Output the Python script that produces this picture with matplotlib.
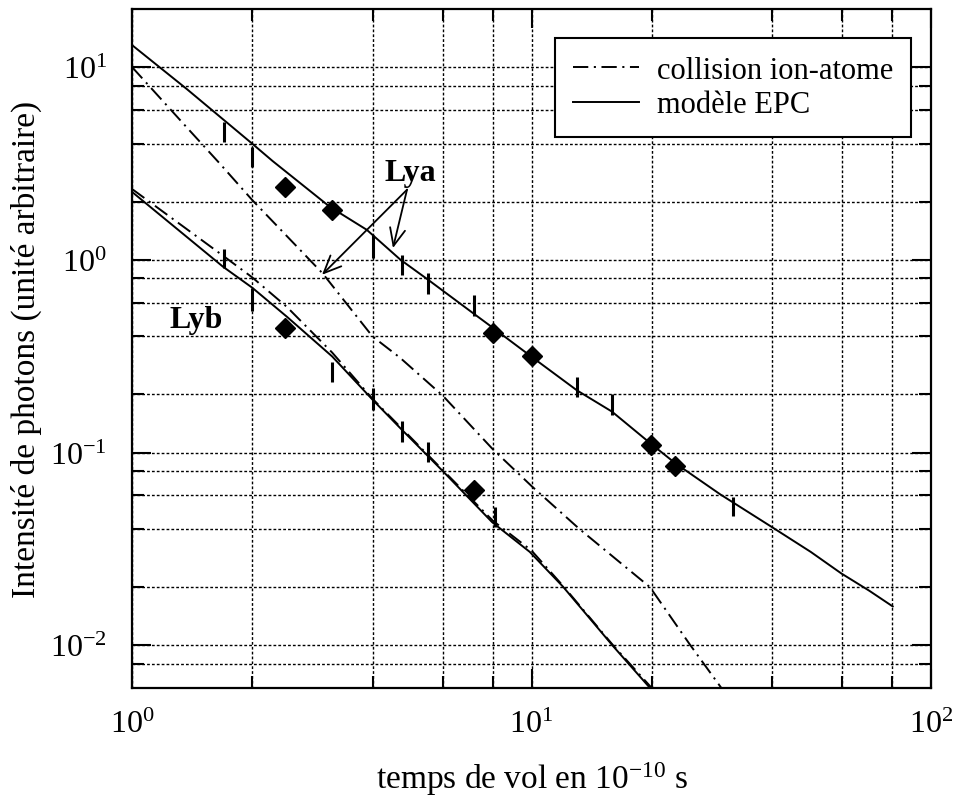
import matplotlib
matplotlib.use('Agg')
import matplotlib.pyplot as plt
from matplotlib.ticker import FixedLocator, LogFormatterSciNotation, NullFormatter

plt.rcParams['font.family'] = ['Liberation Serif', 'DejaVu Serif']
plt.rcParams['mathtext.fontset'] = 'custom'
plt.rcParams['mathtext.rm'] = 'Liberation Serif'
plt.rcParams['mathtext.it'] = 'Liberation Serif:italic'
plt.rcParams['mathtext.bf'] = 'Liberation Serif:bold'
plt.rcParams['lines.scale_dashes'] = False

# ---------------- data ----------------
# EPC model, Ly-alpha
epc_a_x = [1, 1.37, 2, 2.25, 3.13, 3.87, 4.7, 5.5, 7.17, 8, 10, 13, 15.9, 19.8, 22.9, 29.7, 40, 50, 59.6, 70, 80.2]
epc_a_y = [13.0, 7.7, 4.0, 3.25, 1.88, 1.43, 1.0, 0.79, 0.525, 0.444, 0.314, 0.21, 0.163, 0.112, 0.088, 0.0606, 0.041, 0.0305, 0.0236, 0.0192, 0.0159]
# collision ion-atom model, Ly-alpha
col_a_x = [1, 1.37, 1.66, 2, 3, 4, 4.69, 6, 8, 10, 13.2, 19.8, 24.9, 29.7, 31]
col_a_y = [10.0, 4.87, 3.15, 2.04, 0.85, 0.40, 0.31, 0.197, 0.104, 0.067, 0.040, 0.020, 0.0101, 0.0061, 0.0054]
# EPC model, Ly-beta
epc_b_x = [1, 1.69, 2, 2.44, 3.17, 4.0, 4.69, 5.27, 6, 7.97, 9.9, 12, 16, 19.8, 21]
epc_b_y = [2.25, 0.92, 0.716, 0.507, 0.315, 0.188, 0.134, 0.105, 0.080, 0.0435, 0.0305, 0.0201, 0.0099, 0.006, 0.0053]
# collision ion-atom model, Ly-beta
col_b_x = [1, 1.7, 2, 2.44, 3.17, 4.0, 4.69, 6, 8, 10, 12, 16, 20, 21]
col_b_y = [2.33, 1.04, 0.81, 0.57, 0.33, 0.19, 0.136, 0.081, 0.0443, 0.031, 0.0203, 0.0100, 0.0060, 0.0054]

# experimental points (diamonds)
pts_a_x = [2.42, 3.17, 8.0, 10.0, 19.9, 22.9]
pts_a_y = [2.39, 1.81, 0.418, 0.318, 0.110, 0.085]
pts_b_x = [2.42, 7.17]
pts_b_y = [0.444, 0.064]

# experimental points (vertical error bars)
err_a_x = [1.70, 2.0, 4.0, 4.74, 5.5, 7.17, 13.0, 15.9, 31.9]
err_a_lo = [4.10, 3.03, 1.02, 0.83, 0.667, 0.513, 0.195, 0.157, 0.047]
err_a_hi = [5.19, 3.85, 1.35, 1.06, 0.856, 0.659, 0.245, 0.200, 0.059]
err_b_x = [1.70, 2.0, 3.17, 4.0, 4.74, 5.5, 8.1]
err_b_lo = [0.91, 0.54, 0.231, 0.167, 0.114, 0.089, 0.041]
err_b_hi = [1.14, 0.716, 0.296, 0.217, 0.145, 0.113, 0.052]

x_major = [1, 10, 100]
x_minor = [2, 4, 6, 8, 20, 40, 60, 80]
y_major = [0.01, 0.1, 1, 10]
y_minor = [0.008, 0.02, 0.04, 0.06, 0.08, 0.2, 0.4, 0.6, 0.8, 2, 4, 6, 8]

# ---------------- figure ----------------
fig = plt.figure(figsize=(9.56, 8.03), dpi=100)
ax = fig.add_axes([132/956, 1-689/803, (931-132)/956, (689-10)/803])
ax.set_xscale('log')
ax.set_yscale('log')
ax.set_xlim(1, 100)
ax.set_ylim(0.006, 20)

dashdot = (0, (11, 4, 1.5, 4))
lw = 1.4
l_col, = ax.plot(col_a_x, col_a_y, color='k', lw=lw, ls=dashdot, label='collision ion-atome', zorder=3)
ax.plot(col_b_x, col_b_y, color='k', lw=lw, ls=dashdot, zorder=3)
l_epc, = ax.plot(epc_a_x, epc_a_y, color='k', lw=lw, ls='-', label='modèle EPC', zorder=3)
ax.plot(epc_b_x, epc_b_y, color='k', lw=lw, ls='-', zorder=3)

ax.plot(pts_a_x, pts_a_y, 'D', color='k', ms=10, zorder=4)
ax.plot(pts_b_x, pts_b_y, 'D', color='k', ms=10, zorder=4)
ax.vlines(err_a_x, err_a_lo, err_a_hi, color='k', lw=2.2, zorder=4)
ax.vlines(err_b_x, err_b_lo, err_b_hi, color='k', lw=2.2, zorder=4)

# annotations
ax.text(4.97, 2.82, 'Lya', fontsize=23, fontweight='bold', ha='center', va='center', zorder=5)
ax.text(1.446, 0.489, 'Lyb', fontsize=23, fontweight='bold', ha='center', va='center', zorder=5)
arrow_start = (4.88, 2.31)
for tip in [(2.99, 0.836), (4.5, 1.15)]:
    ax.annotate('', xy=tip, xytext=arrow_start,
                arrowprops=dict(arrowstyle='->,head_length=0.5,head_width=0.22', lw=1.3,
                                color='k', shrinkA=0, shrinkB=0, mutation_scale=25),
                zorder=5)

# ticks & grid
ax.xaxis.set_major_locator(FixedLocator(x_major))
ax.xaxis.set_minor_locator(FixedLocator(x_minor))
ax.yaxis.set_major_locator(FixedLocator(y_major))
ax.yaxis.set_minor_locator(FixedLocator(y_minor))
ax.xaxis.set_major_formatter(LogFormatterSciNotation())
ax.yaxis.set_major_formatter(LogFormatterSciNotation())
ax.xaxis.set_minor_formatter(NullFormatter())
ax.yaxis.set_minor_formatter(NullFormatter())
ax.tick_params(which='both', direction='in', top=True, right=True, width=1.5, labelsize=23)
ax.tick_params(which='major', length=14)
ax.tick_params(which='minor', length=8.5)
ax.tick_params(axis='x', which='major', pad=16)
ax.tick_params(axis='y', which='major', pad=18)
ax.grid(True, which='both', ls=(0, (2, 1.5)), lw=1.0, color='k')
ax.set_axisbelow(True)
for s in ax.spines.values():
    s.set_linewidth(1.6)

ax.set_xlabel('temps de vol en 10$^{-10}$ s', fontsize=24)
ax.set_ylabel('Intensité de photons (unité arbitraire)', fontsize=24)
ax.xaxis.set_label_coords(0.5, -0.105)
ax.yaxis.set_label_coords(-0.113, 0.5)

leg = ax.legend(handles=[l_col, l_epc], loc='upper right', bbox_to_anchor=(0.975, 0.957),
                borderaxespad=0, fontsize=22, frameon=True, fancybox=False,
                edgecolor='k', framealpha=1, handlelength=2.15, handletextpad=0.6,
                labelspacing=0.18, borderpad=0.58)
leg.get_frame().set_linewidth(1.5)

fig.savefig('out.png', dpi=100)
